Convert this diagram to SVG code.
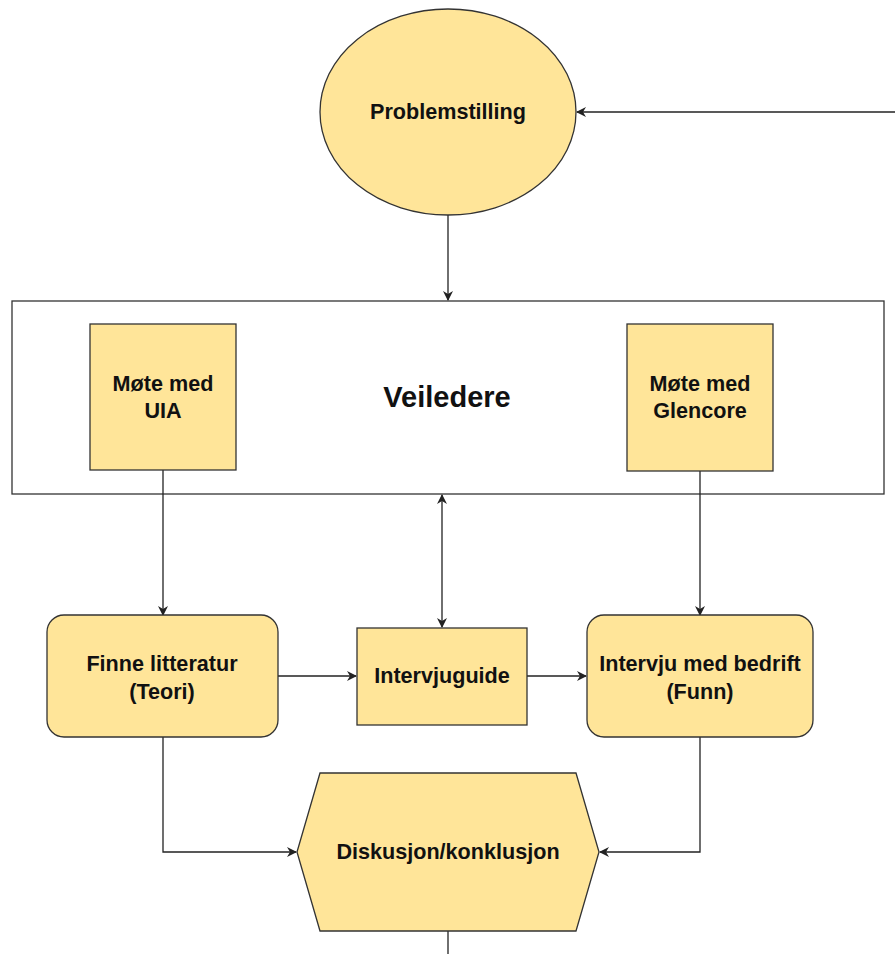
<svg xmlns="http://www.w3.org/2000/svg" width="895" height="954" viewBox="0 0 895 954">
  <style>
    .node { fill: #FFE599; stroke: #333333; stroke-width: 1.3; }
    .frame { fill: #FFFFFF; stroke: #333333; stroke-width: 1.3; }
    .label { font-family: "Liberation Sans", Arial, sans-serif; font-weight: bold; font-size: 21.6px; fill: #111111; text-anchor: middle; }
    .title { font-size: 29px; }
    .edge { fill: none; stroke: #222222; stroke-width: 1.3; }
  </style>
  <defs>
    <marker id="arrow" viewBox="0 0 10 10" refX="9" refY="5" markerWidth="10" markerHeight="10" markerUnits="userSpaceOnUse" orient="auto-start-reverse">
      <path d="M0,0 L10,5 L0,10 L3,5 Z" fill="#222222"/>
    </marker>
  </defs>

  <rect width="895" height="954" fill="#FFFFFF"/>

  <!-- container for the supervisor meetings -->
  <g id="veiledere">
    <rect class="frame" x="12" y="301" width="872" height="193"/>
    <text class="label title" x="447" y="407">Veiledere</text>
  </g>

  <g id="connectors">
    <line class="edge" x1="895" y1="112" x2="577" y2="112" marker-end="url(#arrow)"/>
    <line class="edge" x1="448" y1="215" x2="448" y2="300" marker-end="url(#arrow)"/>
    <line class="edge" x1="163" y1="470" x2="163" y2="615" marker-end="url(#arrow)"/>
    <line class="edge" x1="700" y1="471" x2="700" y2="615" marker-end="url(#arrow)"/>
    <line class="edge" x1="442" y1="495" x2="442" y2="627" marker-start="url(#arrow)" marker-end="url(#arrow)"/>
    <line class="edge" x1="278" y1="676" x2="356" y2="676" marker-end="url(#arrow)"/>
    <line class="edge" x1="527" y1="676" x2="586" y2="676" marker-end="url(#arrow)"/>
    <polyline class="edge" points="163,737 163,852 296,852" marker-end="url(#arrow)"/>
    <polyline class="edge" points="700,737 700,852 600,852" marker-end="url(#arrow)"/>
    <line class="edge" x1="448" y1="931" x2="448" y2="954"/>
  </g>

  <g id="problemstilling">
    <ellipse class="node" cx="448" cy="112" rx="128" ry="103"/>
    <text class="label" x="448" y="119">Problemstilling</text>
  </g>

  <g id="mote-uia">
    <rect class="node" x="90" y="324" width="146" height="146"/>
    <text class="label" x="163" y="391">Møte med</text>
    <text class="label" x="163" y="418">UIA</text>
  </g>

  <g id="mote-glencore">
    <rect class="node" x="627" y="324" width="146" height="147"/>
    <text class="label" x="700" y="391">Møte med</text>
    <text class="label" x="700" y="418">Glencore</text>
  </g>

  <g id="finne-litteratur">
    <rect class="node" x="47" y="615" width="231" height="122" rx="17" ry="17"/>
    <text class="label" x="162" y="671">Finne litteratur</text>
    <text class="label" x="162" y="699">(Teori)</text>
  </g>

  <g id="intervjuguide">
    <rect class="node" x="357" y="628" width="170" height="97"/>
    <text class="label" x="442" y="683">Intervjuguide</text>
  </g>

  <g id="intervju-bedrift">
    <rect class="node" x="587" y="615" width="226" height="122" rx="17" ry="17"/>
    <text class="label" x="700" y="671">Intervju med bedrift</text>
    <text class="label" x="700" y="699">(Funn)</text>
  </g>

  <g id="diskusjon">
    <polygon class="node" points="320,773 576,773 599,852 576,931 320,931 297,852"/>
    <text class="label" x="448" y="859">Diskusjon/konklusjon</text>
  </g>
</svg>
